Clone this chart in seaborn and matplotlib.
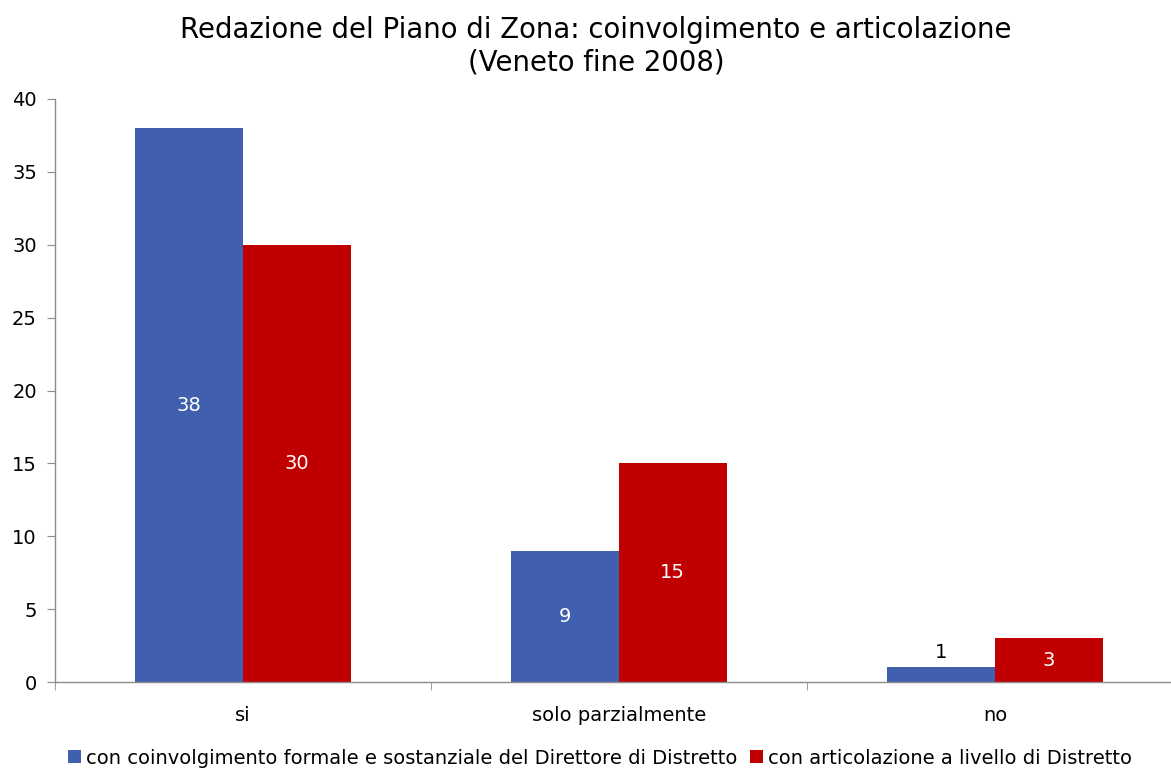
import matplotlib
matplotlib.use("Agg")
import matplotlib.pyplot as plt
import seaborn as sns
import pandas as pd
from matplotlib.patches import Patch

categories = ["si", "solo parzialmente", "no"]
series_names = ["con coinvolgimento formale e sostanziale del Direttore di Distretto",
                "con articolazione a livello di Distretto"]
values_direttore = [38, 9, 1]
values_distretto = [30, 15, 3]
colors = ["#4060AF", "#C00000"]
yticks = [0, 5, 10, 15, 20, 25, 30, 35, 40]

df = pd.DataFrame({
    "categoria": categories * 2,
    "serie": [series_names[0]] * 3 + [series_names[1]] * 3,
    "valore": values_direttore + values_distretto,
})

sns.set_style("white")
plt.rcParams['font.family'] = ['DejaVu Sans']
plt.rcParams['text.color'] = 'black'
plt.rcParams['xtick.color'] = 'black'
plt.rcParams['ytick.color'] = 'black'

fig = plt.figure(figsize=(11.71, 7.69), dpi=100)
ax = fig.add_axes([55/1171, 1 - 682/769, 1 - 55/1171, (682-99)/769])

sns.barplot(data=df, x="categoria", y="valore", hue="serie", order=categories,
            hue_order=series_names, palette=colors, width=0.572, ax=ax,
            saturation=1, legend=False, edgecolor="none", linewidth=0)

ax.set_xlim(-0.5, 2.468)
ax.set_ylim(0, 40)
ax.set_yticks(yticks)
ax.set_xlabel("")
ax.set_ylabel("")

for c in ax.containers:
    for bar in c:
        h = bar.get_height()
        x = bar.get_x() + bar.get_width() / 2
        if h < 2:
            ax.text(x, h + 0.4, f"{int(h)}", ha="center", va="bottom", color="black", fontsize=14)
        else:
            ax.text(x, h / 2, f"{int(h)}", ha="center", va="center", color="white", fontsize=14)

for s in ["top", "right"]:
    ax.spines[s].set_visible(False)
for s in ["left", "bottom"]:
    ax.spines[s].set_color("#8c8c8c")
    ax.spines[s].set_linewidth(1)

ax.tick_params(axis="y", which="major", direction="out", length=6, color="#8c8c8c",
               labelcolor="black", labelsize=14, pad=7, left=True)
ax.set_xticks([0, 1, 2])
ax.set_xticklabels(categories)
ax.tick_params(axis="x", which="major", length=0, labelsize=14, labelcolor="black", pad=17)
ax.set_xticks([-0.5, 0.5, 1.5], minor=True)
ax.tick_params(axis="x", which="minor", direction="out", length=6, color="#8c8c8c", bottom=True)

fig.text(596/1171, 1 - 46/769, "Redazione del Piano di Zona: coinvolgimento e articolazione\n(Veneto fine 2008)",
         ha="center", va="center", fontsize=19.8, linespacing=1.2, color="black")

handles = [Patch(facecolor=colors[0], edgecolor="none"), Patch(facecolor=colors[1], edgecolor="none")]
fig.legend(handles, series_names, loc="center", bbox_to_anchor=(600/1171, 1 - 758/769), ncol=2,
           frameon=False, fontsize=14, handlelength=0.65, handleheight=0.65, handletextpad=0.25,
           columnspacing=0.7, borderaxespad=0, labelcolor="black")

fig.savefig("out.png", dpi=100)
